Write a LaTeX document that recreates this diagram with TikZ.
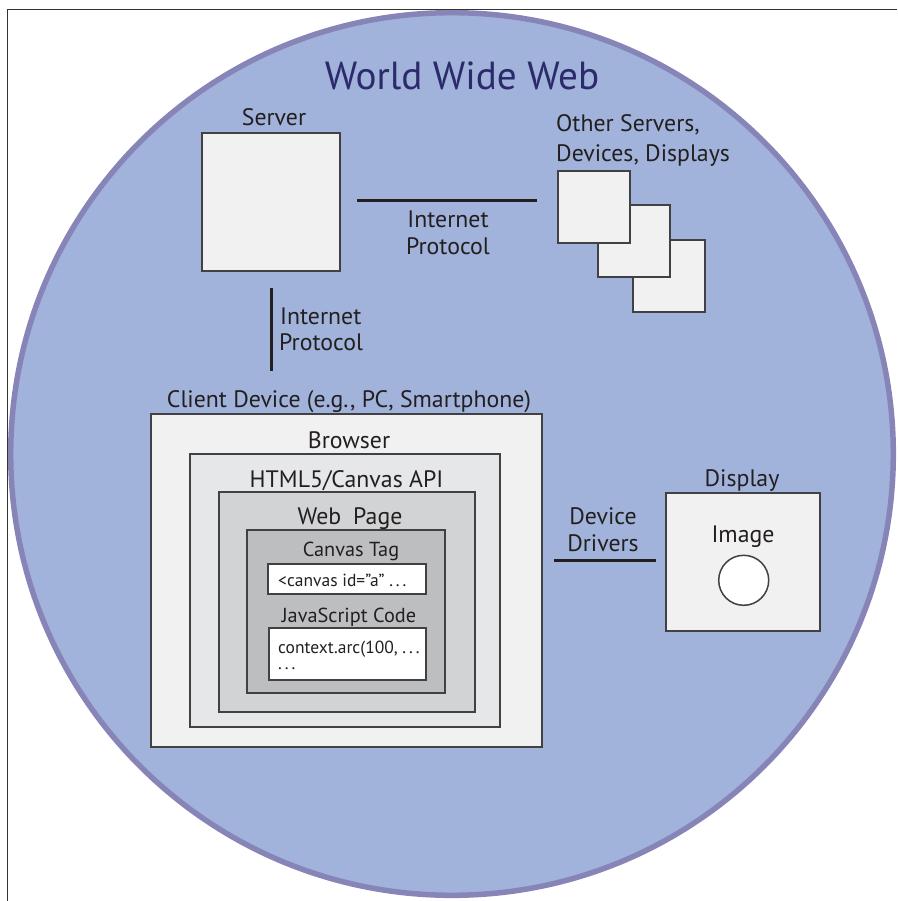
\documentclass[tikz,border=0pt]{standalone}
\usepackage{fontspec}
\setmainfont{PT Sans}
\definecolor{web}{HTML}{A1B3DA}
\definecolor{ring}{HTML}{8785B8}
\definecolor{boxfill}{HTML}{F1F1F1}
\definecolor{brfill}{HTML}{E6E7E8}
\definecolor{htfill}{HTML}{D1D3D4}
\definecolor{wpfill}{HTML}{BCBEC0}
\definecolor{bord}{HTML}{414042}
\definecolor{txt}{HTML}{231F20}
\definecolor{titlec}{HTML}{2B2A6B}
\definecolor{framec}{HTML}{333333}
\begin{document}
\begin{tikzpicture}[x=1pt,y=-1pt,
  box/.style={draw=bord, line width=1.8pt, fill=#1, inner sep=0pt},
  box/.default=boxfill,
  lbl/.style={font=\fontsize{23.8}{28}\selectfont, text=txt, inner sep=0pt, anchor=base},
  slbl/.style={font=\fontsize{20.3}{24}\selectfont, text=txt, inner sep=0pt, anchor=base},
  code/.style={font=\fontsize{17.5}{20}\selectfont, text=txt, inner sep=0pt, anchor=base west},
  conn/.style={draw=txt, line width=3pt}]
\useasboundingbox (0,0) rectangle (897,901);
\clip (0,0) rectangle (897,901);
% web circle
\draw[line width=5.5pt, draw=ring, fill=web] (452,454) circle[radius=441.3];
% frame
\draw[framec, line width=1pt] (7.5,901) -- (7.5,9.5) -- (897,9.5);
% title
\node[font=\fontsize{39.2}{44}\selectfont, text=titlec, inner sep=0pt, anchor=base] (title) at (462,90) {World Wide Web};
% server
\node[lbl] (tserver) at (274,126) {Server};
\node[box, minimum width=138pt, minimum height=138pt] (server) at (271,202) {};
% other servers
\node[lbl, anchor=base west] (tother1) at (556,132) {Other Servers,};
\node[lbl, anchor=base west] (tother2) at (556,162) {Devices, Displays};
\node[box, line width=1.6pt, minimum width=72pt, minimum height=72pt] (o3) at (669,276) {};
\node[box, line width=1.6pt, minimum width=72pt, minimum height=72pt] (o2) at (634,241) {};
\node[box, line width=1.6pt, minimum width=72pt, minimum height=72pt] (o1) at (594,207) {};
% internet protocol (horizontal)
\draw[conn, shorten <=16pt, shorten >=20pt] ([yshift=1pt]server.east) -- ([yshift=1pt]server.east -| o1.west);
\node[lbl] (ip1a) at (448,228) {Internet};
\node[lbl] (ip1b) at (448,254) {Protocol};
% client device
\node[lbl] (tclient) at (349,407) {Client Device (e.g., PC, Smartphone)};
\node[box, minimum width=391pt, minimum height=333pt] (client) at (346.5,580.5) {};
\node[lbl] (tbrowser) at (349,448) {Browser};
\node[box=brfill, line width=1.6pt, minimum width=310pt, minimum height=273pt] (browser) at (345,590.5) {};
\node[lbl] (thtml) at (346.5,487) {HTML5/Canvas API};
\node[box=htfill, line width=1.6pt, minimum width=256pt, minimum height=220pt] (html) at (347,602) {};
\node[lbl] (twp) at (350,524) {Web\hspace{0.5em}Page};
\node[box=wpfill, line width=1.6pt, minimum width=198pt, minimum height=163pt] (webpage) at (346,611.5) {};
\node[slbl] (tcanvas) at (351,556) {Canvas Tag};
\node[box=white, line width=1.6pt, minimum width=158pt, minimum height=30pt] (w1) at (347,579) {};
\node[code] (c1) at (278,586) {<canvas id=”a” .\,.\,.};
\node[slbl] (tjs) at (349,622) {JavaScript Code};
\node[box=white, line width=1.6pt, minimum width=157pt, minimum height=52pt] (w2) at (347.5,654) {};
\node[code] (c2) at (278,653) {context.arc(100, .\,.\,.};
\node[code] (c3) at (278,669) {.\,.\,.};
% internet protocol (vertical)
\draw[conn, shorten <=16pt, shorten >=42pt] (server.south) -- (server.south |- client.north);
\node[lbl, anchor=base west] (ip2a) at (280,324) {Internet};
\node[lbl, anchor=base west] (ip2b) at (279,350) {Protocol};
% display
\node[lbl] (tdisplay) at (742,486) {Display};
\node[box, minimum width=154pt, minimum height=138pt] (display) at (743,562) {};
\node[lbl] (timage) at (743,542) {Image};
\node[circle, draw=bord, line width=1.5pt, fill=white, minimum size=50pt, inner sep=0pt] (img) at (743.7,580.3) {};
% device drivers
\draw[conn, shorten <=11pt, shorten >=9pt] ([yshift=2pt]display.west -| client.east) -- ([yshift=2pt]display.west);
\node[lbl] (dd1) at (603,524) {Device};
\node[lbl] (dd2) at (603,551) {Drivers};
\end{tikzpicture}
\end{document}
